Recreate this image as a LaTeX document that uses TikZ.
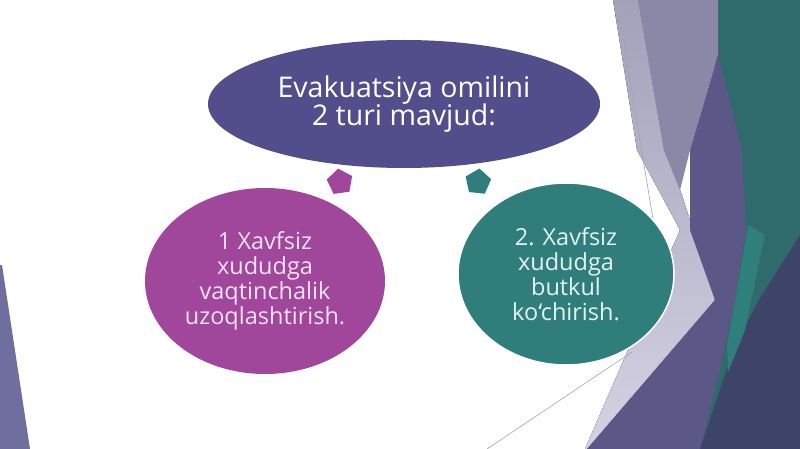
\documentclass[tikz,border=0pt]{standalone}
\usepackage{fontspec}
\setmainfont{Open Sans}
\usetikzlibrary{shapes.geometric}
\definecolor{tealbg}{HTML}{2F6A6C}
\definecolor{tealbright}{HTML}{2F807C}
\definecolor{navybg}{HTML}{3E4468}
\definecolor{purpbg}{HTML}{5B5787}
\definecolor{graypbg}{HTML}{8A87A7}
\definecolor{lavtop}{HTML}{A3A1BA}
\definecolor{lavbot}{HTML}{D4D2E2}
\definecolor{leftbg}{HTML}{706E9E}
\definecolor{topfill}{HTML}{524E8C}
\definecolor{leftfill}{HTML}{A0479C}
\definecolor{rightfill}{HTML}{307E7C}
\definecolor{lefttext}{HTML}{F5E2F2}
\definecolor{righttext}{HTML}{E2F3F1}
\definecolor{thinline}{HTML}{A4A3B4}
\tikzset{
  bubble/.style={ellipse, inner sep=0pt, align=center},
  marker/.style={regular polygon, regular polygon sides=5, minimum size=27pt, inner sep=0pt, draw=none},
}
\begin{document}
\begin{tikzpicture}[x=1pt,y=-1pt]
\useasboundingbox (0,0) rectangle (800,449);
\fill[white] (0,0) rectangle (800,449);
% background facets
\fill[leftbg] (0,265) -- (2,265) -- (30,449) -- (0,449) -- cycle;
\fill[tealbg] (717,0) -- (800,0) -- (800,449) -- (700,449) -- cycle;
\fill[top color=lavtop, bottom color=lavbot] (613,0) -- (638,0) -- (664,150) -- (682,195) -- (715,300) -- (587,449) -- (585,449) -- (680,230) -- (637,150) -- cycle;
\fill[graypbg] (638,0) -- (718,0) -- (718,55) -- (690,150) -- (680,190) -- (664,150) -- cycle;
\fill[purpbg] (718,55) -- (742,150) -- (746,230) -- (735,300) -- (722,360) -- (700,449) -- (587,449) -- (715,300) -- (690,230) -- (690,150) -- cycle;
\fill[navybg] (800,235) -- (800,449) -- (700,449) -- (735,345) -- (760,298) -- cycle;
\fill[tealbright] (748,225) -- (765,235) -- (745,330) -- (728,372) -- (727,345) -- (737,290) -- cycle;
\draw[thinline, line width=0.6pt] (617,0) -- (660,262);
\coordinate (la) at (487,449);
\coordinate (lb) at (632,352);
\draw[thinline, line width=0.6pt] (la) -- (lb);
% diagram
\node[bubble, fill=topfill, minimum width=392pt, minimum height=128pt,
      text=white, font=\fontsize{28.5}{28.5}\selectfont] (top) at (404,104)
      {Evakuatsiya omilini\\2 turi mavjud:};
\node[bubble, fill=leftfill, minimum width=240pt, minimum height=186pt,
      text=lefttext, font=\fontsize{23.5}{25}\selectfont] (left) at (265,281)
      {1 Xavfsiz\\xududga\\vaqtinchalik\\uzoqlashtirish.};
\node[bubble, fill=rightfill, draw=white, line width=1.5pt, minimum width=216pt, minimum height=182pt,
      text=righttext, font=\fontsize{23.5}{25}\selectfont] (right) at (566,274)
      {2. Xavfsiz\\xududga\\butkul\\ko‘chirish.};
\node[marker, fill=leftfill, rotate=8] (mleft) at (340,182) {};
\node[marker, fill=rightfill, rotate=-6] (mright) at (478,182) {};
\end{tikzpicture}
\end{document}
